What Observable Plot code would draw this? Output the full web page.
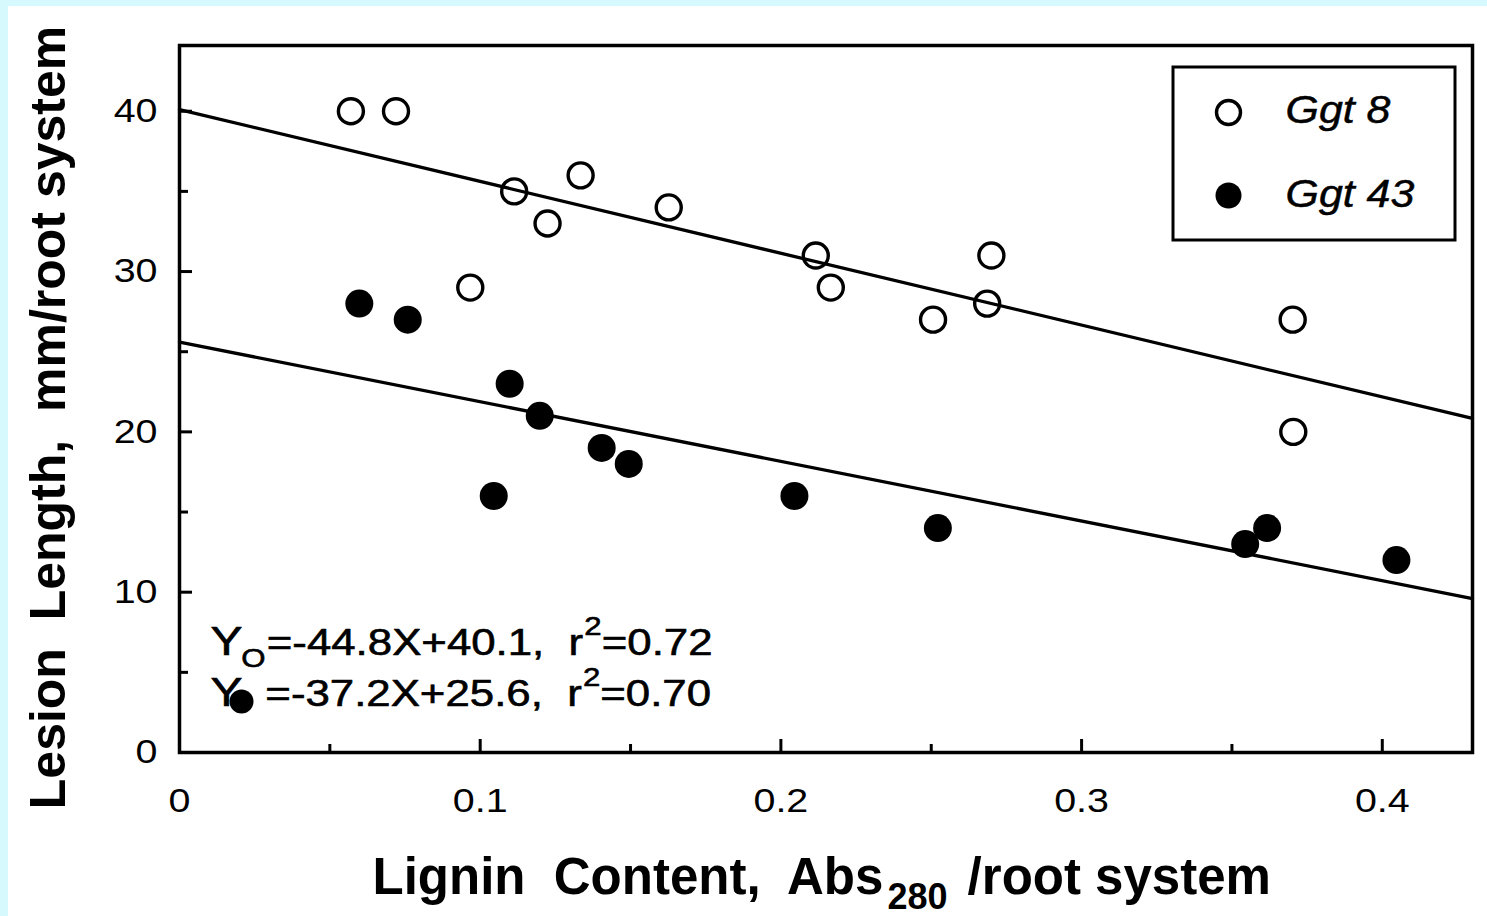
<!DOCTYPE html>
<html><head><meta charset="utf-8">
<script src="https://cdn.jsdelivr.net/npm/d3@7"></script>
<script src="https://cdn.jsdelivr.net/npm/@observablehq/plot@0.6"></script>
<style>
body{margin:0;background:#fff;}
#wrap{position:relative;width:1487px;height:916px;overflow:hidden;background:#fff;}
#wrap svg{display:block;}
.strip{position:absolute;background:#d5f9fc;z-index:5;}
svg text{white-space:pre;}
</style></head><body>
<div id="wrap"></div>
<script>
// ---- data ----
const seriesNames = ["Ggt 8", "Ggt 43"];
const ggt8X = [0.057, 0.072, 0.0967, 0.1113, 0.1224, 0.1334, 0.1627, 0.2116, 0.2166, 0.2506, 0.2686, 0.2700, 0.3702, 0.3704];
const ggt8Y = [40, 40, 29, 35, 33, 36, 34, 31, 29, 27, 28, 31, 27, 20];
const ggt43X = [0.0598, 0.0759, 0.1045, 0.1098, 0.1198, 0.1404, 0.1494, 0.2045, 0.2522, 0.3544, 0.3617, 0.4047];
const ggt43Y = [28, 27, 16, 23, 21, 19, 18, 16, 14, 13, 14, 12];
const fitSlope = [-44.8, -37.2];
const fitIntercept = [40.1, 25.6];
const fitR2 = [0.72, 0.70];
const xDomain = [0, 0.43];
const yDomain = [0, 44.1];
const xMajor = [0, 0.1, 0.2, 0.3, 0.4];
const xMinor = [0.05, 0.15, 0.25, 0.35];
const yMajor = [0, 10, 20, 30, 40];
const yMinor = [5, 15, 25, 35];
const xTickLabels = ["0", "0.1", "0.2", "0.3", "0.4"];
const yTickLabels = ["0", "10", "20", "30", "40"];
const yTitle = "Lesion  Length,  mm/root system";
const xTitleMain = "Lignin  Content,  Abs";
const xTitleSub = "280";
const xTitleTail = " /root system";

// ---- derived tables ----
const openPts = ggt8X.map((x, i) => ({series: seriesNames[0], x, y: ggt8Y[i]}));
const fillPts = ggt43X.map((x, i) => ({series: seriesNames[1], x, y: ggt43Y[i]}));
const fitData = seriesNames.flatMap((s, i) => xDomain.map(x => ({series: s, x, y: fitIntercept[i] + fitSlope[i] * x})));
const eqBody = [0, 1].map(i => `=${fitSlope[i]}X+${fitIntercept[i]},  r`);
const eqTail = fitR2.map(r => `=${r.toFixed(2)}`);
const eqPlain = [0, 1].map(i => `Y${eqBody[i]}2${eqTail[i]}`);

const FONT = "'Liberation Sans', Arial, Helvetica, sans-serif";
const W = 1487, H = 916, mL = 179, mR = 15, mT = 45, mB = 164;
const fw = W - mL - mR, fh = H - mT - mB;
const ink = {fill: "black", stroke: "black", strokeWidth: 0.6};

const chart = Plot.plot({
  width: W, height: H,
  marginLeft: mL, marginRight: mR, marginTop: mT, marginBottom: mB,
  style: {fontFamily: FONT, background: "white", color: "black", overflow: "visible"},
  x: {domain: xDomain},
  y: {domain: yDomain},
  marks: [
    Plot.line(fitData, {x: "x", y: "y", z: "series", stroke: "black", strokeWidth: 3.3}),
    Plot.tickY(yMajor, {y: d => d, stroke: "black", strokeWidth: 3, insetRight: fw - 13}),
    Plot.tickY(yMinor, {y: d => d, stroke: "black", strokeWidth: 3, insetRight: fw - 9}),
    Plot.tickX(xMajor, {x: d => d, stroke: "black", strokeWidth: 3, insetTop: fh - 13}),
    Plot.tickX(xMinor, {x: d => d, stroke: "black", strokeWidth: 3, insetTop: fh - 8}),
    Plot.axisX({ticks: xMajor, tickFormat: d => xTickLabels[xMajor.indexOf(d)], tickSize: 0, tickPadding: 35, fontSize: 34, label: null, ...ink}),
    Plot.axisY({ticks: yMajor, tickFormat: d => yTickLabels[yMajor.indexOf(d)], tickSize: 0, tickPadding: 22, fontSize: 34, label: null, ...ink}),
    Plot.dot(openPts, {x: "x", y: "y", r: 12.5, stroke: "black", strokeWidth: 3.4, fill: "none"}),
    Plot.dot(fillPts, {x: "x", y: "y", r: 14, fill: "black"}),
    Plot.frame({stroke: "black", strokeWidth: 3.5}),
    // legend
    Plot.dot([seriesNames[0]], {frameAnchor: "top-right", dx: -244, dy: 67, r: 12, stroke: "black", strokeWidth: 3.4, fill: "none"}),
    Plot.dot([seriesNames[1]], {frameAnchor: "top-right", dx: -244, dy: 150, r: 13, fill: "black"}),
    Plot.text([seriesNames[0]], {text: d => d, frameAnchor: "top-right", dx: -187, dy: 65, textAnchor: "start", lineAnchor: "middle", fontSize: 38, fontStyle: "italic", ...ink, strokeWidth: 0.5}),
    Plot.text([seriesNames[1]], {text: d => d, frameAnchor: "top-right", dx: -187, dy: 149, textAnchor: "start", lineAnchor: "middle", fontSize: 38, fontStyle: "italic", ...ink, strokeWidth: 0.5}),
    // equations
    Plot.text([eqPlain[0]], {text: d => d, frameAnchor: "bottom-left", dx: 31, dy: -98, textAnchor: "start", lineAnchor: "bottom", fontSize: 36.5, ...ink}),
    Plot.text([eqPlain[1]], {text: d => d, frameAnchor: "bottom-left", dx: 31, dy: -47, textAnchor: "start", lineAnchor: "bottom", fontSize: 36.5, ...ink}),
    Plot.dot([seriesNames[1]], {frameAnchor: "bottom-left", dx: 62, dy: -51, r: 12, fill: "black"}),
    // axis titles
    Plot.text([yTitle], {text: d => d, frameAnchor: "left", rotate: -90, dx: -131, dy: 18.5, textAnchor: "middle", lineAnchor: "middle", fontSize: 50, fontWeight: "bold", fill: "black"}),
    Plot.text([xTitleMain], {text: d => d, frameAnchor: "bottom-left", dx: 193, dy: 141, textAnchor: "start", lineAnchor: "bottom", fontSize: 51, fontWeight: "bold", fill: "black"})
  ]
});

const svg = d3.select(chart);
const byText = s => svg.selectAll("text").filter(function() { return this.textContent === s; });

function squeeze(s, k) {
  s.each(function() {
    let t = this.getAttribute("transform");
    if (!t) {
      const x = this.getAttribute("x") || 0, y = this.getAttribute("y") || 0;
      t = `translate(${x},${y})`;
      this.removeAttribute("x");
    }
    this.setAttribute("transform", `${t} scale(${k},1)`);
  });
}

// horizontally wider labels, like the scanned figure
squeeze(svg.selectAll('g[aria-label="x-axis tick label"] text'), 1.16);
squeeze(svg.selectAll('g[aria-label="y-axis tick label"] text'), 1.16);
seriesNames.forEach(s => squeeze(byText(s), 1.13));

// equations with sub/superscripts
[0, 1].forEach(i => {
  const t = byText(eqPlain[i]);
  t.text("");
  t.append("tspan").attr("font-size", 40).text("Y");
  if (i === 0) {
    t.append("tspan").attr("font-size", 26).attr("dx", -1).attr("dy", 12).text("O");
    t.append("tspan").attr("dx", 1).attr("dy", -12).text(eqBody[i]);
  } else {
    t.append("tspan").attr("dx", 19).text(eqBody[i]);
  }
  t.append("tspan").attr("font-size", 26).attr("dx", 1).attr("dy", -20).text("2");
  t.append("tspan").attr("dy", 20).text(eqTail[i]);
  squeeze(t, 1.2);
});

// x title with subscript
{
  const t = byText(xTitleMain);
  t.text("");
  t.append("tspan").text(xTitleMain);
  t.append("tspan").attr("font-size", 36).attr("dx", 4).attr("dy", 15).text(xTitleSub);
  t.append("tspan").attr("dx", 6).attr("dy", -15).text(xTitleTail);
}

// legend box
svg.append("rect")
  .attr("x", 1173).attr("y", 67).attr("width", 282).attr("height", 173)
  .attr("fill", "none").attr("stroke", "black").attr("stroke-width", 3);

const wrapEl = document.getElementById("wrap");
wrapEl.appendChild(chart);
const stripTop = document.createElement("div");
stripTop.className = "strip"; stripTop.style.cssText = "left:0;top:0;width:1487px;height:6px;";
const stripLeft = document.createElement("div");
stripLeft.className = "strip"; stripLeft.style.cssText = "left:0;top:0;width:8px;height:916px;";
wrapEl.appendChild(stripTop); wrapEl.appendChild(stripLeft);
</script>
</body></html>
